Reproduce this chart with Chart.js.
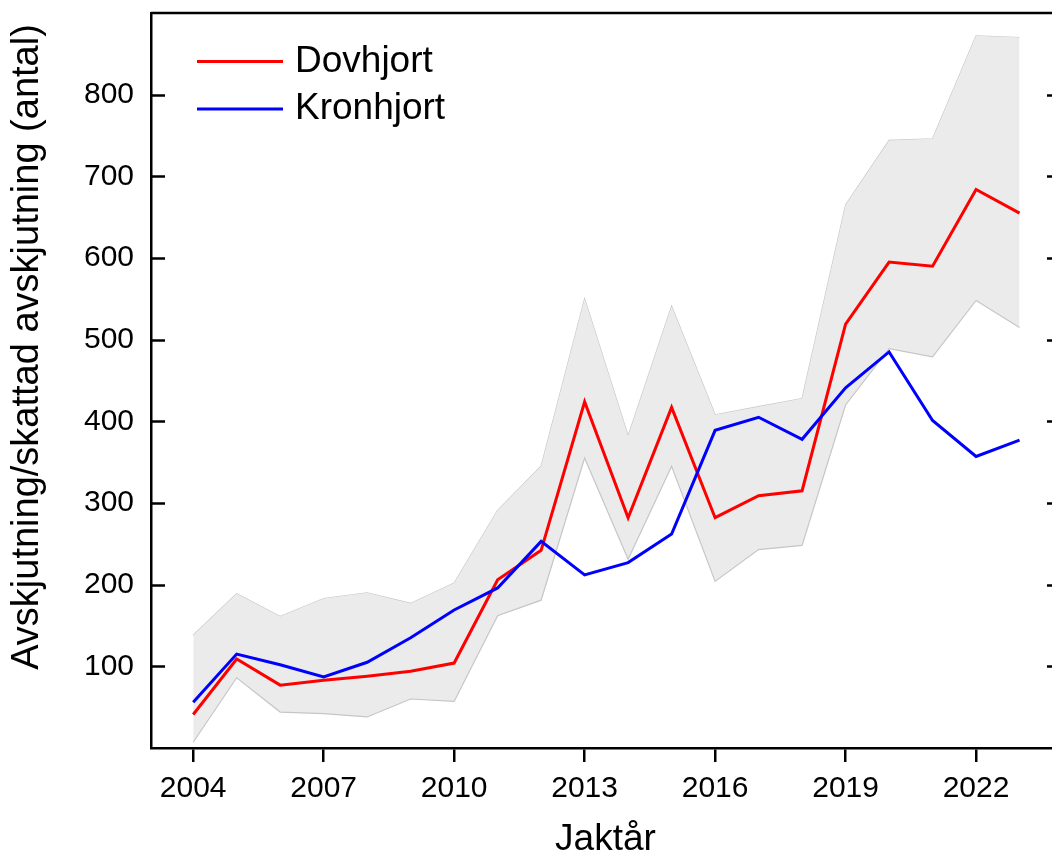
<!DOCTYPE html>
<html>
<head>
<meta charset="utf-8">
<script src="https://cdn.jsdelivr.net/npm/chart.js@4/dist/chart.umd.min.js"></script>
<style>
  html, body { margin: 0; padding: 0; background: #fff; overflow: hidden; }
  #wrap { width: 1070px; height: 858px; }
</style>
</head>
<body>
<div id="wrap"><canvas id="chart" width="1070" height="858"></canvas></div>
<script>
// data
const years = [2004, 2005, 2006, 2007, 2008, 2009, 2010, 2011, 2012, 2013,
               2014, 2015, 2016, 2017, 2018, 2019, 2020, 2021, 2022, 2023];
const dovhjort = [41, 109, 77, 83, 88, 94, 104, 206, 242, 424,
                  282, 417, 282, 309, 315, 519, 595, 590, 684, 655];
const kronhjort = [56, 115, 102, 87, 105, 135, 169, 196, 253, 212,
                   227, 262, 389, 405, 378, 441, 485, 401, 357, 377];
const bandUpper = [138, 189, 161, 183, 190, 177, 202, 291, 345, 550,
                   382, 541, 408, 418, 428, 665, 744, 746, 872, 870];
const bandLower = [7, 86, 44, 42, 38, 60, 57, 162, 181, 355,
                   231, 345, 204, 243, 248, 420, 489, 479, 548, 515];
const xTicks = [2004, 2007, 2010, 2013, 2016, 2019, 2022];
const yTicks = [100, 200, 300, 400, 500, 600, 700, 800];
const seriesNames = ['Dovhjort', 'Kronhjort'];
const yTitle = 'Avskjutning/skattad avskjutning (antal)';
const xTitle = 'Jaktår';

const FONT = '"Liberation Sans", Arial, sans-serif';
const pts = arr => years.map((x, i) => ({ x, y: arr[i] }));

// top/right frame, inward y ticks, y title and the legend
const framePlugin = {
  id: 'frame',
  afterDraw(chart) {
    const { ctx, chartArea: a, scales: { y } } = chart;
    ctx.save();
    ctx.strokeStyle = '#000';
    ctx.lineWidth = 2.5;
    ctx.beginPath();
    ctx.moveTo(a.left, a.top); ctx.lineTo(a.right, a.top); ctx.lineTo(a.right, a.bottom);
    yTicks.forEach(v => {
      const py = Math.round(y.getPixelForValue(v)) + 0.5;
      ctx.moveTo(a.left, py); ctx.lineTo(a.left + 14, py);
      ctx.moveTo(a.right, py); ctx.lineTo(a.right - 13, py);
    });
    ctx.stroke();

    ctx.fillStyle = '#000';
    ctx.font = '38px ' + FONT;
    ctx.textAlign = 'center';
    ctx.textBaseline = 'middle';
    ctx.translate(28, 347);
    ctx.rotate(-Math.PI / 2);
    ctx.fillText(yTitle, 0, 0);
    ctx.restore();

    ctx.save();
    const colors = ['#ff0000', '#0000ff'];
    const rows = [61.5, 109];
    ctx.font = '37px ' + FONT;
    ctx.textBaseline = 'middle';
    ctx.textAlign = 'left';
    ctx.fillStyle = '#000';
    seriesNames.forEach((name, i) => {
      ctx.strokeStyle = colors[i];
      ctx.lineWidth = 3;
      ctx.beginPath();
      ctx.moveTo(197, rows[i]); ctx.lineTo(283, rows[i]);
      ctx.stroke();
      ctx.fillText(name, 295, rows[i]);
    });
    ctx.restore();
  }
};

new Chart(document.getElementById('chart'), {
  type: 'line',
  data: {
    datasets: [
      { label: 'upper', data: pts(bandUpper), borderColor: '#c6c6c6', borderWidth: 1.2,
        pointRadius: 0, fill: false, order: 4 },
      { label: 'lower', data: pts(bandLower), borderColor: '#c6c6c6', borderWidth: 1.2,
        pointRadius: 0, fill: '-1', backgroundColor: '#ebebeb', order: 3 },
      { label: seriesNames[0], data: pts(dovhjort), borderColor: '#ff0000', borderWidth: 3,
        pointRadius: 0, fill: false, order: 2 },
      { label: seriesNames[1], data: pts(kronhjort), borderColor: '#0000ff', borderWidth: 3,
        pointRadius: 0, fill: false, order: 1 }
    ]
  },
  options: {
    responsive: false,
    animation: false,
    devicePixelRatio: 1,
    layout: { padding: { top: 13, right: 10, left: 0, bottom: 0 } },
    plugins: { legend: { display: false }, tooltip: { enabled: false } },
    scales: {
      x: {
        type: 'linear', min: 2003.03, max: 2023.93,
        afterBuildTicks: s => { s.ticks = xTicks.map(v => ({ value: v })); },
        afterFit: s => { s.height = 110; s.paddingLeft = 0; s.paddingRight = 0; },
        grid: { display: true, drawOnChartArea: false, drawTicks: true, tickLength: 14,
                color: '#000', lineWidth: 2.5 },
        border: { display: true, color: '#000', width: 2.5 },
        ticks: { color: '#000', font: { family: FONT, size: 30 }, padding: 9,
                 maxRotation: 0, callback: v => String(v) },
        title: { display: true, text: xTitle, color: '#000',
                 font: { family: FONT, size: 37, lineHeight: 1 }, padding: { top: 0, bottom: 0 } }
      },
      y: {
        min: 0, max: 900,
        afterBuildTicks: s => { s.ticks = yTicks.map(v => ({ value: v })); },
        afterFit: s => { s.width = 151; s.paddingTop = 0; s.paddingBottom = 0; },
        grid: { display: false, drawTicks: false },
        border: { display: true, color: '#000', width: 2.5 },
        ticks: { color: '#000', font: { family: FONT, size: 30 }, padding: 17,
                 callback: v => String(v) }
      }
    }
  },
  plugins: [framePlugin]
});
</script>
</body>
</html>
